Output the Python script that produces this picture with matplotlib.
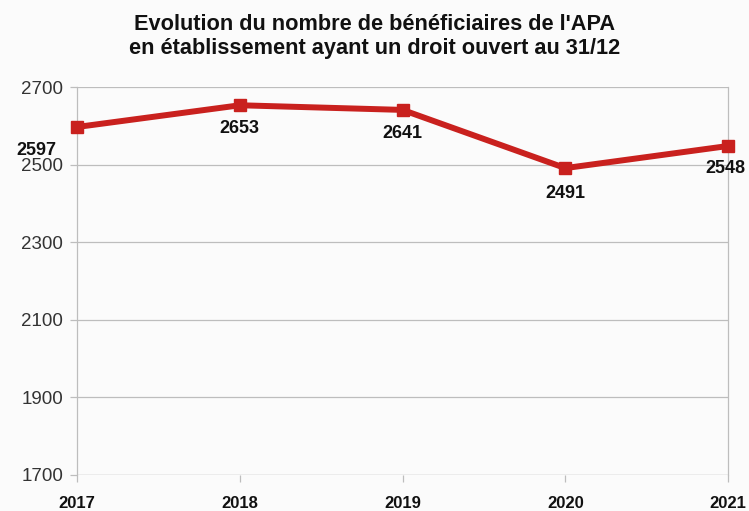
import numpy as np
import matplotlib.pyplot as plt

plt.rcParams['font.family'] = ['Liberation Sans', 'DejaVu Sans']

# Bénéficiaires de l'APA en établissement, droit ouvert au 31/12
years = ['2017', '2018', '2019', '2020', '2021']
beneficiaires = [2597, 2653, 2641, 2491, 2548]
y_ticks = [1700, 1900, 2100, 2300, 2500, 2700]

red = '#c9211e'
grid_col = '#bdbdbd'

fig = plt.figure(figsize=(7.49, 5.11), dpi=100)
fig.patch.set_facecolor('#fbfbfb')
ax = fig.add_axes([0.103, 0.0705, 0.869, 0.7592])
ax.set_facecolor('#fbfbfb')

x = np.arange(len(years))
ax.plot(x, beneficiaires, color=red, lw=4.3, marker='s', ms=8,
        solid_joinstyle='miter', zorder=3, clip_on=False)

# étiquettes de valeurs sous chaque point
offsets = [(-29, -17), (0, -17), (0, -17), (0, -18), (-2, -16)]
for xi, v, (dx, dy) in zip(x, beneficiaires, offsets):
    ax.annotate(str(v), (xi, v), xytext=(dx, dy), textcoords='offset points',
                ha='center', va='center', fontsize=13, fontweight='bold',
                color='#111111', annotation_clip=False)

ax.set_xlim(0, len(years) - 1)
ax.set_ylim(1700, 2700)
ax.set_xticks(x)
ax.set_xticklabels(years, fontsize=12, fontweight='bold')
ax.set_yticks(y_ticks)
ax.set_yticklabels([str(t) for t in y_ticks], fontsize=13.5)

ax.grid(axis='y', color=grid_col, lw=0.9)
for side in ['top', 'bottom']:
    ax.spines[side].set_visible(False)
for side in ['left', 'right']:
    ax.spines[side].set_color(grid_col)
    ax.spines[side].set_linewidth(0.9)
ax.axhline(1700, color=grid_col, lw=0.9)
ax.tick_params(axis='both', colors=grid_col, length=5, width=0.9)
ax.tick_params(axis='x', labelcolor='#111111', pad=10)
ax.tick_params(axis='y', labelcolor='#333333', pad=5)

fig.suptitle("Evolution du nombre de bénéficiaires de l'APA\n"
             "en établissement ayant un droit ouvert au 31/12",
             y=0.972, fontsize=15.7, fontweight='bold', linespacing=1.15,
             color='#111111')

fig.savefig('out.png', dpi=100, facecolor=fig.get_facecolor())
